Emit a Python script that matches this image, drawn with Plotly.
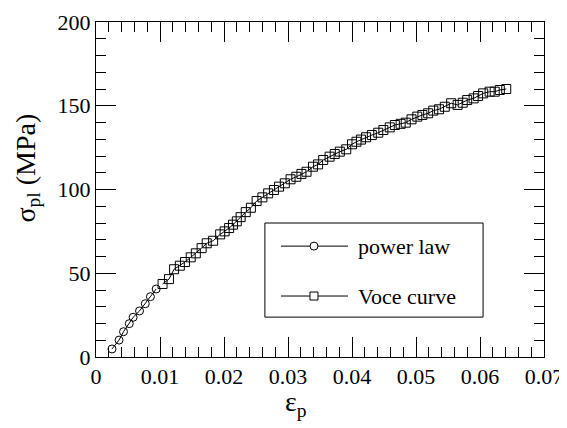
import plotly.graph_objects as go

power_x = [0.0025, 0.0036, 0.0043, 0.0052, 0.0058, 0.0068, 0.0077, 0.0085, 0.0094]
power_y = [4.8, 10.1, 15.1, 19.9, 23.7, 27.5, 31.8, 36.0, 40.6]

voce_x = [0.0104, 0.0114, 0.0122, 0.0131, 0.0139, 0.0148, 0.0156, 0.0165, 0.0173, 0.0183,
          0.0194, 0.0201, 0.0208, 0.0214, 0.0220, 0.0226, 0.0234, 0.0242, 0.0251, 0.0260,
          0.0269, 0.0278, 0.0286, 0.0295, 0.0304, 0.0313, 0.0321, 0.0329, 0.0339, 0.0347,
          0.0355, 0.0365, 0.0373, 0.0381, 0.0391, 0.0400, 0.0407, 0.0414, 0.0422, 0.0431,
          0.0441, 0.0449, 0.0459, 0.0467, 0.0476, 0.0484, 0.0493, 0.0502, 0.0510, 0.0519,
          0.0527, 0.0536, 0.0545, 0.0555, 0.0565, 0.0573, 0.0580, 0.0590, 0.0597, 0.0605,
          0.0615, 0.0623, 0.0631, 0.0641]
voce_y = [43.6, 46.5, 52.4, 54.5, 56.7, 59.5, 61.9, 65.0, 67.9, 69.4,
          73.2, 75.0, 77.0, 79.0, 81.0, 83.5, 86.5, 89.1, 93.1, 95.3,
          97.7, 99.7, 101.7, 103.7, 106.1, 107.6, 109.3, 110.6, 113.6, 115.0,
          117.6, 119.6, 121.2, 122.6, 124.0, 127.0, 128.5, 129.8, 131.2, 132.5,
          133.9, 135.5, 137.1, 138.5, 139.2, 139.9, 141.9, 143.5, 144.5, 145.5,
          147.1, 147.9, 149.4, 151.5, 150.5, 151.8, 153.4, 154.4, 155.8, 157.4,
          158.4, 158.4, 159.4, 160.0]

x_ticks = [0, 0.01, 0.02, 0.03, 0.04, 0.05, 0.06, 0.07]
x_tick_text = ["0", "0.01", "0.02", "0.03", "0.04", "0.05", "0.06", "0.07"]
y_ticks = [0, 50, 100, 150, 200]
series_names = ["power law", "Voce curve"]
x_title = "ε<sub>p</sub>"
y_title = "σ<sub>pl</sub> (MPa)"

FONT = "Liberation Serif"

fig = go.Figure()
fig.add_trace(go.Scatter(
    x=power_x, y=power_y, mode="lines+markers", name=series_names[0],
    line=dict(color="black", width=1),
    marker=dict(symbol="circle-open", size=8, color="black", line=dict(width=1)),
))
fig.add_trace(go.Scatter(
    x=voce_x, y=voce_y, mode="lines+markers", name=series_names[1],
    line=dict(color="black", width=1),
    marker=dict(symbol="square-open", size=9, color="black", line=dict(width=1)),
))

axis_common = dict(
    showline=True, linecolor="black", linewidth=1, mirror="allticks",
    ticks="inside", ticklen=20, tickwidth=1, tickcolor="black",
    showgrid=False, zeroline=False, automargin=False,
    tickfont=dict(family=FONT, size=22, color="black"),
)

fig.update_xaxes(
    range=[0, 0.07], tickvals=x_ticks, ticktext=x_tick_text,
    minor=dict(ticks="inside", ticklen=10, dtick=0.002, tick0=0, tickcolor="black", tickwidth=1, showgrid=False),
    **axis_common,
)
fig.update_yaxes(
    range=[0, 200], tickvals=y_ticks,
    minor=dict(ticks="inside", ticklen=10, dtick=10, tick0=0, tickcolor="black", tickwidth=1, showgrid=False),
    **axis_common,
)

# axis titles
fig.add_annotation(xref="paper", yref="paper", x=0.446, y=-0.138, text=x_title,
                   showarrow=False, xanchor="center", yanchor="middle",
                   font=dict(family=FONT, size=28, color="black"))
fig.add_annotation(xref="paper", yref="paper", x=-0.155, y=0.564, text=y_title, textangle=-90,
                   showarrow=False, xanchor="center", yanchor="middle",
                   font=dict(family=FONT, size=28, color="black"))

# hand-drawn legend box (paper coordinates of the plot area)
fig.add_shape(type="rect", xref="paper", yref="paper", x0=0.377, x1=0.864, y0=0.119, y1=0.400,
              line=dict(color="black", width=1), fillcolor="white", layer="above")
rows = [0.331, 0.182]
for i, ry in enumerate(rows):
    fig.add_shape(type="line", xref="paper", yref="paper", x0=0.413, x1=0.5625, y0=ry, y1=ry,
                  line=dict(color="black", width=1), layer="above")
    dx, dy = 4 / 448, 4 / 335
    if i == 0:
        fig.add_shape(type="circle", xref="paper", yref="paper",
                      x0=0.4866 - dx, x1=0.4866 + dx, y0=ry - dy, y1=ry + dy,
                      line=dict(color="black", width=1), fillcolor="white", layer="above")
    else:
        fig.add_shape(type="rect", xref="paper", yref="paper",
                      x0=0.4866 - dx, x1=0.4866 + dx, y0=ry - dy, y1=ry + dy,
                      line=dict(color="black", width=1), fillcolor="white", layer="above")
    fig.add_annotation(xref="paper", yref="paper", x=0.580, y=ry, text=series_names[i],
                       showarrow=False, xanchor="left", yanchor="middle",
                       font=dict(family=FONT, size=22, color="black"))

fig.update_layout(
    template="none",
    width=567, height=428,
    margin=dict(l=88, r=31, t=14, b=79),
    paper_bgcolor="white", plot_bgcolor="white",
    font=dict(family=FONT, size=22, color="black"),
    showlegend=False,
)

fig.write_html("out.html")
